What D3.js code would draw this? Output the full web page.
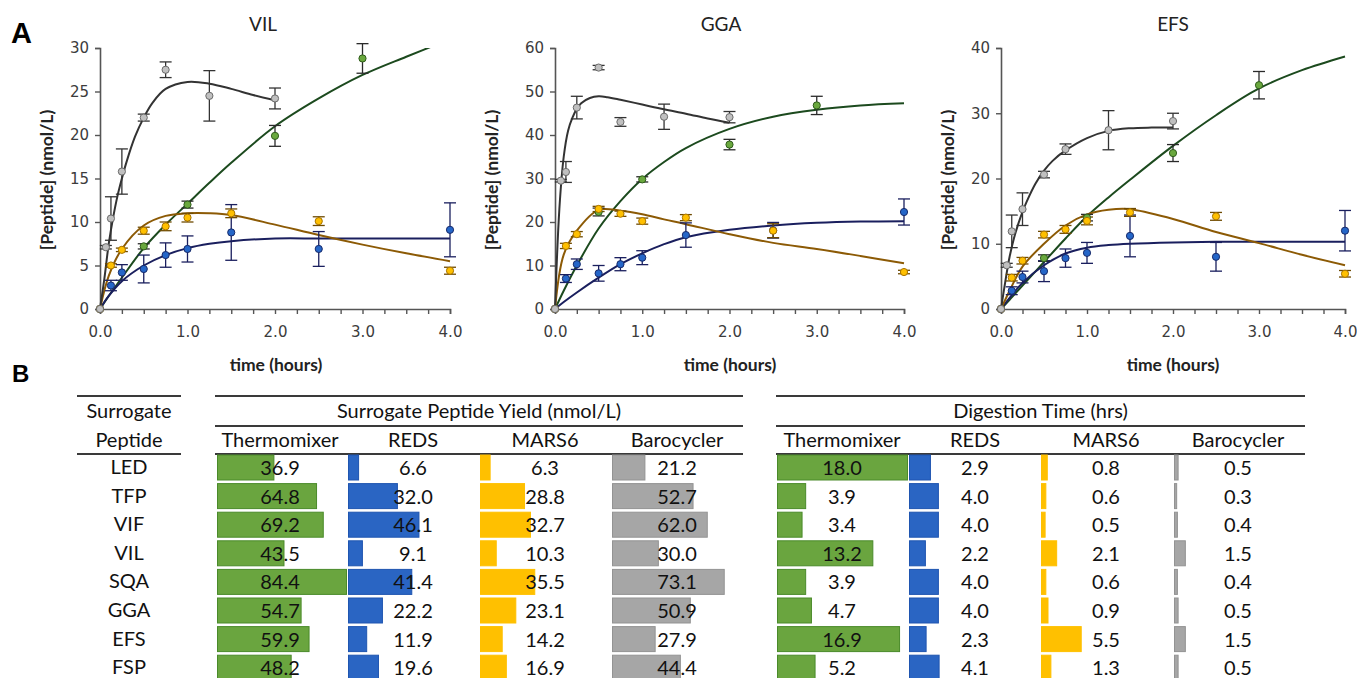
<!DOCTYPE html>
<html>
<head>
<meta charset="utf-8">
<script src="https://cdn.jsdelivr.net/npm/d3@7"></script>
<style>
  body { margin: 0; background: #fff; }
  svg { display: block; }
</style>
</head>
<body>
<div class="container"></div>
<script>
var width = 1357;
var height = 678;

// ---------- A: time course data ----------
var sampleT = [0, 0.125, 0.25, 0.5, 0.75, 1.0, 1.5, 2.5, 4.0];   // REDS + MARS6
var thermoT = [0, 0.5, 1.0, 2.0, 3.0];
var baroT = [0, 0.067, 0.125, 0.25, 0.5, 0.75, 1.25, 2.0];
var fitT = [0, 0.1, 0.25, 0.5, 0.75, 1.0, 1.25, 1.5, 2.0, 2.5, 3.0, 3.5, 4.0];
var baroFitT = [0, 0.05, 0.1, 0.15, 0.2, 0.25, 0.3, 0.4, 0.5, 0.6, 0.75, 1.0, 1.25, 1.5, 1.75, 2.0];

// VIL
var vilThermo = [0, 7.2, 12.0, 19.9, 28.8];
var vilThermoErr = [0, 0.3, 0.4, 1.2, 1.7];
var vilThermoFit = [0, 1.5, 3.6, 7.0, 9.7, 12.1, 14.5, 16.8, 21.0, 24.2, 26.9, 29.0, 31.0];
var vilReds = [0, 2.7, 4.2, 4.6, 6.2, 6.9, 8.8, 6.9, 9.1];
var vilRedsErr = [0, 0.6, 0.9, 1.6, 1.4, 1.5, 3.2, 2.0, 3.1];
var vilRedsFit = [0, 1.5, 3.2, 5.0, 6.2, 7.0, 7.5, 7.8, 8.1, 8.1, 8.1, 8.1, 8.1];
var vilMars = [0, 5.0, 6.8, 9.0, 9.5, 10.5, 11.0, 10.1, 4.4];
var vilMarsErr = [0, 0.2, 0.2, 0.4, 0.5, 0.5, 0.5, 0.5, 0.4];
var vilMarsFit = [0, 3.8, 6.9, 9.6, 10.7, 11.0, 11.0, 10.8, 9.7, 8.5, 7.4, 6.4, 5.5];
var vilBaro = [0, 7.1, 10.4, 15.8, 22.0, 27.5, 24.5, 24.2];
var vilBaroErr = [0, 0.2, 2.5, 2.6, 0.4, 0.9, 2.9, 1.2];
var vilBaroFit = [0, 3.5, 7.5, 10.5, 13.0, 15.0, 16.8, 19.8, 22.0, 23.7, 25.3, 26.1, 25.9, 25.3, 24.6, 24.0];

// GGA
var ggaThermo = [0, 22.3, 29.8, 37.8, 46.8];
var ggaThermoErr = [0, 0.9, 0.6, 1.2, 2.1];
var ggaThermoFit = [0, 4.2, 10.0, 18.5, 24.8, 29.9, 33.8, 37.0, 41.4, 44.2, 45.8, 46.8, 47.3];
var ggaReds = [0, 7.0, 10.3, 8.2, 10.3, 11.8, 17.0, 18.1, 22.3];
var ggaRedsErr = [0, 0.9, 1.2, 1.8, 1.5, 1.6, 2.8, 1.8, 3.0];
var ggaRedsFit = [0, 1.6, 3.8, 7.2, 10.3, 12.8, 14.9, 16.5, 18.2, 19.2, 19.8, 20.1, 20.2];
var ggaMars = [0, 14.5, 17.2, 23.0, 21.9, 20.2, 21.0, 18.0, 8.5];
var ggaMarsErr = [0, 0.6, 0.6, 0.6, 0.6, 0.7, 0.7, 1.6, 0.4];
var ggaMarsFit = [0, 12.5, 18.0, 22.8, 22.6, 21.8, 20.6, 19.5, 17.2, 15.2, 13.8, 12.2, 10.5];
var ggaBaro = [0, 29.5, 31.5, 46.3, 55.5, 43.0, 44.2, 44.1];
var ggaBaroErr = [0, 0.3, 2.4, 2.6, 0.5, 1.0, 2.9, 1.3];
var ggaBaroFit = [0, 23.0, 35.0, 41.0, 44.0, 46.0, 47.3, 48.5, 48.9, 48.7, 48.1, 47.0, 45.9, 44.9, 43.8, 42.8];

// EFS
var efsThermo = [0, 7.8, 14.0, 23.9, 34.3];
var efsThermoErr = [0, 0.5, 0.5, 1.3, 2.1];
var efsThermoFit = [0, 1.4, 3.6, 7.2, 10.8, 14.2, 17.1, 19.8, 25.0, 29.7, 33.8, 36.6, 38.7];
var efsReds = [0, 2.8, 4.9, 5.8, 7.8, 8.6, 11.2, 8.0, 12.0];
var efsRedsErr = [0, 0.6, 0.9, 1.6, 1.4, 1.6, 3.2, 2.2, 3.1];
var efsRedsFit = [0, 1.7, 4.0, 6.7, 8.5, 9.4, 9.8, 10.0, 10.2, 10.3, 10.3, 10.3, 10.3];
var efsMars = [0, 4.8, 7.4, 11.4, 12.2, 13.5, 14.8, 14.2, 5.4];
var efsMarsErr = [0, 0.5, 0.5, 0.5, 0.6, 0.6, 0.6, 0.6, 0.5];
var efsMarsFit = [0, 2.8, 6.5, 10.0, 12.8, 14.5, 15.2, 15.3, 13.8, 11.8, 10.1, 8.3, 6.7];
var efsBaro = [0, 6.7, 11.9, 15.3, 20.6, 24.5, 27.4, 28.8];
var efsBaroErr = [0, 0.3, 2.5, 2.5, 0.5, 0.8, 3.0, 1.2];
var efsBaroFit = [0, 4.2, 8.0, 10.8, 13.0, 14.9, 16.5, 19.2, 21.2, 22.7, 24.3, 26.2, 27.3, 27.7, 27.8, 27.8];

// ---------- B: table data ----------
var peptides = ["LED", "TFP", "VIF", "VIL", "SQA", "GGA", "EFS", "FSP"];
var instruments = ["Thermomixer", "REDS", "MARS6", "Barocycler"];
var yieldThermo = [36.9, 64.8, 69.2, 43.5, 84.4, 54.7, 59.9, 48.2];
var yieldReds = [6.6, 32.0, 46.1, 9.1, 41.4, 22.2, 11.9, 19.6];
var yieldMars = [6.3, 28.8, 32.7, 10.3, 35.5, 23.1, 14.2, 16.9];
var yieldBaro = [21.2, 52.7, 62.0, 30.0, 73.1, 50.9, 27.9, 44.4];
var timeThermo = [18.0, 3.9, 3.4, 13.2, 3.9, 4.7, 16.9, 5.2];
var timeReds = [2.9, 4.0, 4.0, 2.2, 4.0, 4.0, 2.3, 4.1];
var timeMars = [0.8, 0.6, 0.5, 2.1, 0.6, 0.9, 5.5, 1.3];
var timeBaro = [0.5, 0.3, 0.4, 1.5, 0.4, 0.5, 1.5, 0.5];

var styles = {
  thermo: {fill: "#6aa83e", stroke: "#2f5c1c", line: "#1c4a1e", err: "#2a2a2a"},
  reds:   {fill: "#2566c8", stroke: "#182a6a", line: "#1a1f5e", err: "#1a1f5e"},
  mars:   {fill: "#ffc000", stroke: "#a87300", line: "#8c5a05", err: "#6e4a00"},
  baro:   {fill: "#c0c0c0", stroke: "#6a6a6a", line: "#333333", err: "#333333"}
};
var barColors = [
  {fill: "#6aa53f", stroke: "#4a8a2a"},
  {fill: "#2a65c3", stroke: "#1f55b0"},
  {fill: "#ffc000", stroke: "#ffc000"},
  {fill: "#a6a6a6", stroke: "#939393"}
];

var panels = [
  {name: "VIL", yMax: 30, yStep: 5, left: 100, right: 450, titleX: 263, yLabelX: 47, xLabelX: 276,
   series: {thermo: [thermoT, vilThermo, vilThermoErr, fitT, vilThermoFit],
            reds: [sampleT, vilReds, vilRedsErr, fitT, vilRedsFit],
            mars: [sampleT, vilMars, vilMarsErr, fitT, vilMarsFit],
            baro: [baroT, vilBaro, vilBaroErr, baroFitT, vilBaroFit]}},
  {name: "GGA", yMax: 60, yStep: 10, left: 555, right: 904, titleX: 721, yLabelX: 492, xLabelX: 730,
   series: {thermo: [thermoT, ggaThermo, ggaThermoErr, fitT, ggaThermoFit],
            reds: [sampleT, ggaReds, ggaRedsErr, fitT, ggaRedsFit],
            mars: [sampleT, ggaMars, ggaMarsErr, fitT, ggaMarsFit],
            baro: [baroT, ggaBaro, ggaBaroErr, baroFitT, ggaBaroFit]}},
  {name: "EFS", yMax: 40, yStep: 10, left: 1001, right: 1345, titleX: 1173, yLabelX: 948, xLabelX: 1173,
   series: {thermo: [thermoT, efsThermo, efsThermoErr, fitT, efsThermoFit],
            reds: [sampleT, efsReds, efsRedsErr, fitT, efsRedsFit],
            mars: [sampleT, efsMars, efsMarsErr, fitT, efsMarsFit],
            baro: [baroT, efsBaro, efsBaroErr, baroFitT, efsBaroFit]}}
];
var plotTop = 48;
var plotBottom = 309;

var svg = d3.select(".container")
  .append("svg")
  .attr("width", width)
  .attr("height", height)
  .style("background", "#fff");

//-----------------------------------------
// 1. PANEL LETTERS
svg.append("text").text("A")
  .attr("x", 11).attr("y", 43)
  .style("font-family", "Liberation Sans, Arial").style("font-weight", "bold").style("font-size", "29px");
svg.append("text").text("B")
  .attr("x", 12).attr("y", 382)
  .style("font-family", "Liberation Sans, Arial").style("font-weight", "bold").style("font-size", "24px");

//-----------------------------------------
// 2. TIME COURSE PANELS
panels.forEach(function(p, pi) {
  var g = svg.append("g");
  var x = d3.scaleLinear().domain([0, 4]).range([p.left, p.right]);
  var y = d3.scaleLinear().domain([0, p.yMax]).range([plotBottom, plotTop]);

  g.append("defs").append("clipPath").attr("id", "clip" + pi)
    .append("rect")
    .attr("x", p.left - 5).attr("y", plotTop)
    .attr("width", p.right - p.left + 10).attr("height", plotBottom - plotTop + 5);

  var xAxis = d3.axisBottom(x)
    .tickValues(d3.range(0, 4.001, 0.25))
    .tickSize(5).tickPadding(12)
    .tickFormat(function(d) { return d % 1 === 0 ? d3.format(".1f")(d) : ""; });
  var yAxis = d3.axisLeft(y)
    .tickValues(d3.range(0, p.yMax + 0.001, p.yStep))
    .tickSize(5).tickPadding(6);

  var gx = g.append("g").attr("transform", "translate(0," + plotBottom + ")").call(xAxis);
  var gy = g.append("g").attr("transform", "translate(" + p.left + ",0)").call(yAxis);
  [gx, gy].forEach(function(ax) {
    ax.select(".domain").attr("stroke", "#555").attr("stroke-width", 1.6);
    ax.selectAll(".tick line").attr("stroke", "#555").attr("stroke-width", 1.4);
    ax.selectAll(".tick text")
      .attr("fill", "#3c3c3c")
      .style("font-family", "DejaVu Sans, Verdana").style("font-size", "15px");
  });

  // titles
  g.append("text").text(p.name)
    .attr("x", p.titleX).attr("y", 31).attr("text-anchor", "middle")
    .style("font-family", "Lato").style("font-size", "19px").attr("fill", "#222");
  g.append("text").text("time (hours)")
    .attr("x", p.xLabelX).attr("y", 371).attr("text-anchor", "middle")
    .style("font-family", "Lato").style("font-weight", "bold").style("font-size", "17.5px").attr("fill", "#222");
  g.append("text").text("[Peptide] (nmol/L)")
    .attr("transform", "translate(" + (p.yLabelX + 6) + ",180) rotate(-90)")
    .attr("text-anchor", "middle")
    .style("font-family", "Lato").style("font-weight", "bold").style("font-size", "17.5px").attr("fill", "#222");

  var line = d3.line()
    .x(function(d) { return x(d[0]); })
    .y(function(d) { return y(d[1]); })
    .curve(d3.curveCatmullRom.alpha(0.5));

  var order = ["thermo", "reds", "mars", "baro"];

  // fitted curves
  order.forEach(function(k) {
    var s = p.series[k];
    var pts = s[3].map(function(t, i) { return [t, s[4][i]]; });
    g.append("path").datum(pts)
      .attr("d", line)
      .attr("fill", "none")
      .attr("stroke", styles[k].line)
      .attr("stroke-width", 2)
      .attr("clip-path", "url(#clip" + pi + ")");
  });

  // error bars + points
  order.forEach(function(k) {
    var s = p.series[k];
    var pts = s[0].map(function(t, i) { return {t: t, v: s[1][i], e: s[2][i]}; })
      .filter(function(d) { return d.e > 0; });
    var eg = g.append("g").attr("stroke", styles[k].err).attr("stroke-width", 1.3);
    eg.selectAll(".ev").data(pts).enter().append("line")
      .attr("x1", function(d) { return x(d.t); }).attr("x2", function(d) { return x(d.t); })
      .attr("y1", function(d) { return y(d.v - d.e); }).attr("y2", function(d) { return y(d.v + d.e); });
    [-1, 1].forEach(function(sg) {
      eg.selectAll(".ec" + sg).data(pts).enter().append("line")
        .attr("x1", function(d) { return x(d.t) - 6; }).attr("x2", function(d) { return x(d.t) + 6; })
        .attr("y1", function(d) { return y(d.v + sg * d.e); }).attr("y2", function(d) { return y(d.v + sg * d.e); });
    });
  });
  order.forEach(function(k) {
    var s = p.series[k];
    g.selectAll(".pt-" + k).data(s[0]).enter().append("circle")
      .attr("cx", function(d) { return x(d); })
      .attr("cy", function(d, i) { return y(s[1][i]); })
      .attr("r", 3.6)
      .attr("fill", styles[k].fill)
      .attr("stroke", styles[k].stroke)
      .attr("stroke-width", 1);
  });
});

//-----------------------------------------
// 3. TABLE
var tfont = "Lato";
var rowTop = 454.5;
var rowStep = 28.6;
var barH = 25;

function rule(x1, x2, yy) {
  svg.append("line").attr("x1", x1).attr("x2", x2).attr("y1", yy).attr("y2", yy)
    .attr("stroke", "#3a3a3a").attr("stroke-width", 1.8);
}
function ttext(t, xx, yy) {
  return svg.append("text").text(t).attr("x", xx).attr("y", yy).attr("text-anchor", "middle")
    .style("font-family", tfont).style("font-size", "20px").attr("fill", "#111");
}

// peptide column
rule(77, 181, 396);
rule(77, 181, 454);
ttext("Surrogate", 129, 418);
ttext("Peptide", 129, 447);
var rowY = d3.scaleLinear().domain([0, 1]).range([rowTop, rowTop + rowStep]);
peptides.forEach(function(pep, i) { ttext(pep, 129, rowY(i) + 19.5); });

var groups = [
  {title: "Surrogate Peptide Yield (nmol/L)", x1: 215, x2: 743,
   cols: [yieldThermo, yieldReds, yieldMars, yieldBaro],
   starts: [217, 348, 480, 612], centers: [280, 413, 545, 677],
   scale: d3.scaleLinear().domain([0, 84.4]).range([0, 129])},
  {title: "Digestion Time (hrs)", x1: 776, x2: 1305,
   cols: [timeThermo, timeReds, timeMars, timeBaro],
   starts: [777, 909, 1041, 1174], centers: [842, 975, 1106, 1238],
   scale: d3.scaleLinear().domain([0, 18]).range([0, 130])}
];

groups.forEach(function(gr) {
  rule(gr.x1, gr.x2, 396);
  rule(gr.x1, gr.x2, 426);
  rule(gr.x1, gr.x2, 454);
  ttext(gr.title, (gr.x1 + gr.x2) / 2, 418);
  instruments.forEach(function(ins, c) { ttext(ins, gr.centers[c], 447); });

  gr.cols.forEach(function(vals, c) {
    svg.selectAll(null).data(vals).enter().append("rect")
      .attr("x", gr.starts[c] + 0.5)
      .attr("y", function(d, i) { return rowY(i) + 0.5; })
      .attr("width", function(d) { return Math.max(1, gr.scale(d)); })
      .attr("height", barH)
      .attr("fill", barColors[c].fill)
      .attr("stroke", barColors[c].stroke)
      .attr("stroke-width", 1);
    vals.forEach(function(v, i) { ttext(d3.format(".1f")(v), gr.centers[c], rowY(i) + 20.5); });
  });
});
</script>
</body>
</html>
